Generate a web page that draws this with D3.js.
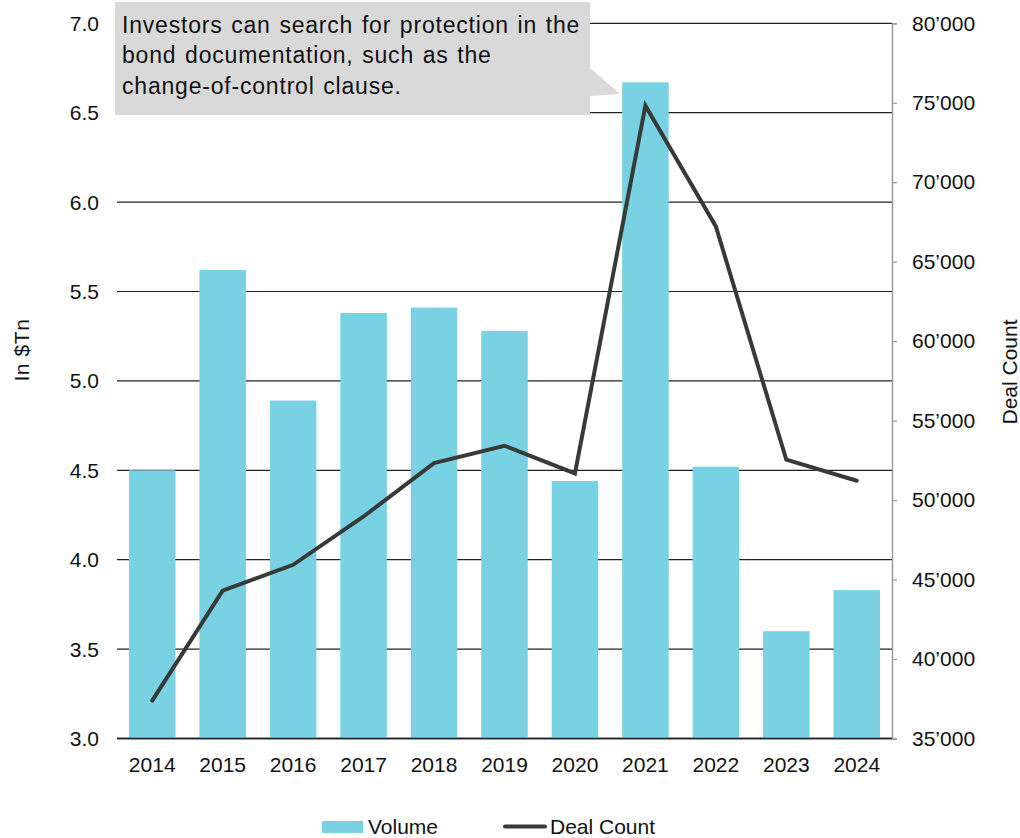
<!DOCTYPE html>
<html>
<head>
<meta charset="utf-8">
<script src="https://cdn.jsdelivr.net/npm/d3@7"></script>
<style>
  body { margin: 0; background: #fff; }
  svg { display: block; font-family: "Liberation Sans", Arial, sans-serif; }
</style>
</head>
<body>
<div id="js_chart"></div>
<script>
// values
const years = ["2014", "2015", "2016", "2017", "2018", "2019", "2020", "2021", "2022", "2023", "2024"];
const volume = [4.50, 5.62, 4.89, 5.38, 5.41, 5.28, 4.44, 6.67, 4.52, 3.60, 3.83];
const dealCount = [37380, 44300, 45930, 48970, 52330, 53420, 51680, 74820, 67220, 52540, 51220];
const leftTicks = [3.0, 3.5, 4.0, 4.5, 5.0, 5.5, 6.0, 6.5, 7.0];
const rightTicks = [35000, 40000, 45000, 50000, 55000, 60000, 65000, 70000, 75000, 80000];
const noteLines = [
  "Investors can search for protection in the",
  "bond documentation, such as the",
  "change-of-control clause."
];

const width = 1020, height = 838;
const plot = { left: 117, right: 892, top: 23.3, bottom: 738.5 };
const barColor = "#78d2e4";
const lineColor = "#373b38";

const svg = d3.select("#js_chart")
  .append("svg")
  .attr("width", width)
  .attr("height", height);

const x = d3.scaleBand()
  .domain(years)
  .range([plot.left, plot.right])
  .paddingInner(0.34)
  .paddingOuter(0.17);

const yLeft = d3.scaleLinear().domain([3, 7]).range([plot.bottom, plot.top]);
const yRight = d3.scaleLinear().domain([35000, 80000]).range([plot.bottom, plot.top]);

const fmtRight = d => d3.format(",")(d).replace(",", "\u2019");

// gridlines from the left axis
svg.append("g")
  .selectAll("line")
  .data(leftTicks)
  .join("line")
    .attr("x1", plot.left)
    .attr("x2", plot.right)
    .attr("y1", d => yLeft(d))
    .attr("y2", d => yLeft(d))
    .attr("stroke", "#222")
    .attr("stroke-width", d => d === 3 ? 1.6 : 1.2);

// left tick labels
svg.append("g")
  .selectAll("text")
  .data(leftTicks)
  .join("text")
    .attr("x", 99)
    .attr("y", d => yLeft(d))
    .attr("dy", "0.36em")
    .attr("text-anchor", "end")
    .attr("font-size", 21)
    .attr("fill", "#111")
    .text(d => d.toFixed(1));

// bars
svg.append("g")
  .selectAll("rect")
  .data(years)
  .join("rect")
    .attr("x", d => x(d))
    .attr("width", x.bandwidth())
    .attr("y", (d, i) => yLeft(volume[i]))
    .attr("height", (d, i) => yLeft(3) - yLeft(volume[i]))
    .attr("fill", barColor);

// baseline on top of bars
svg.append("line")
  .attr("x1", plot.left).attr("x2", plot.right)
  .attr("y1", yLeft(3)).attr("y2", yLeft(3))
  .attr("stroke", "#222").attr("stroke-width", 1.6);

// right axis
const rightAxis = d3.axisRight(yRight)
  .tickValues(rightTicks)
  .tickSize(5)
  .tickPadding(15)
  .tickFormat(fmtRight);

const gRight = svg.append("g")
  .attr("transform", `translate(${plot.right},0)`)
  .call(rightAxis);
gRight.select(".domain").attr("stroke", "#9a9a9a").attr("stroke-width", 1.5);
gRight.selectAll(".tick line").attr("stroke", "#9a9a9a").attr("stroke-width", 1.2);
gRight.selectAll(".tick text")
  .attr("font-size", 21)
  .attr("font-family", "Liberation Sans, Arial, sans-serif")
  .attr("fill", "#111");

// x labels
svg.append("g")
  .selectAll("text")
  .data(years)
  .join("text")
    .attr("x", d => x(d) + x.bandwidth() / 2)
    .attr("y", 772)
    .attr("text-anchor", "middle")
    .attr("font-size", 21)
    .attr("fill", "#111")
    .text(d => d);

// deal count line
const line = d3.line()
  .x((d, i) => x(years[i]) + x.bandwidth() / 2)
  .y(d => yRight(d));

svg.append("path")
  .datum(dealCount)
  .attr("fill", "none")
  .attr("stroke", lineColor)
  .attr("stroke-width", 4)
  .attr("stroke-linejoin", "miter")
  .attr("stroke-linecap", "round")
  .attr("d", line);

// axis titles
svg.append("text")
  .attr("transform", "translate(29,350) rotate(-90)")
  .attr("text-anchor", "middle")
  .attr("font-size", 21)
  .attr("letter-spacing", 0.6)
  .attr("fill", "#111")
  .text("In $Tn");

svg.append("text")
  .attr("transform", "translate(1017,372) rotate(-90)")
  .attr("text-anchor", "middle")
  .attr("font-size", 21)
  .attr("fill", "#111")
  .text("Deal Count");

// callout
const note = svg.append("g");
note.append("rect")
  .attr("x", 115).attr("y", 2)
  .attr("width", 475).attr("height", 113)
  .attr("fill", "#d9d9d9");
note.append("path")
  .attr("d", "M589,67 L620,94 L589,96 Z")
  .attr("fill", "#d9d9d9");
note.selectAll("text")
  .data(noteLines)
  .join("text")
    .attr("x", 122)
    .attr("y", (d, i) => 33 + i * 30.3)
    .attr("font-size", 23)
    .attr("letter-spacing", 0.8)
    .attr("word-spacing", 1.5)
    .attr("fill", "#111")
    .text(d => d);

// legend
const legend = svg.append("g");
legend.append("rect")
  .attr("x", 322).attr("y", 821)
  .attr("width", 41).attr("height", 12)
  .attr("fill", barColor);
legend.append("text")
  .attr("x", 368).attr("y", 834)
  .attr("font-size", 21)
  .attr("fill", "#111")
  .text("Volume");
legend.append("line")
  .attr("x1", 505).attr("x2", 545)
  .attr("y1", 826.5).attr("y2", 826.5)
  .attr("stroke", lineColor)
  .attr("stroke-width", 4)
  .attr("stroke-linecap", "round");
legend.append("text")
  .attr("x", 550).attr("y", 834)
  .attr("font-size", 21)
  .attr("fill", "#111")
  .text("Deal Count");
</script>
</body>
</html>
